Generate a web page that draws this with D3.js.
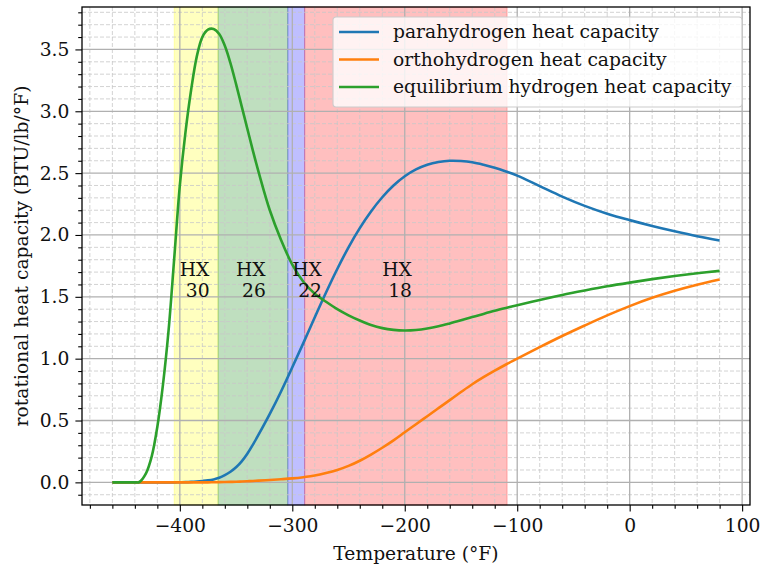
<!DOCTYPE html>
<html>
<head>
<meta charset="utf-8">
<script src="https://cdn.jsdelivr.net/npm/d3@7"></script>
<style>
  body { margin: 0; background: #fff; }
  text { font-family: "DejaVu Serif", serif; fill: #111; }
</style>
</head>
<body>
<div id="chart"></div>
<script>
// temperatures (°F) where the curves were read
var temps = [-460, -450, -440, -436, -430, -425, -420, -415, -410, -405, -400, -395, -390, -385, -380, -375, -370, -365, -360, -355, -350,
  -345, -340, -335, -330, -320, -310, -300, -290, -280, -270, -260, -250, -240, -230, -220, -210, -200, -190, -180, -170, -160, -150,
  -140, -130, -120, -110, -100, -80, -60, -40, -20, 0, 20, 40, 60, 80];

var paraCp = [0, 0, 0, 0, 0, 0, 0, 0, 0, 0, 0.001, 0.002, 0.004, 0.007, 0.011, 0.016, 0.024, 0.037, 0.058, 0.086, 0.122,
  0.17, 0.232, 0.305, 0.385, 0.553, 0.735, 0.93, 1.13, 1.335, 1.535, 1.725, 1.9, 2.055, 2.19, 2.305, 2.4, 2.475, 2.53, 2.568, 2.59, 2.6, 2.598,
  2.588, 2.568, 2.543, 2.513, 2.48, 2.395, 2.31, 2.235, 2.172, 2.12, 2.073, 2.03, 1.99, 1.955];

var orthoCp = [0, 0, 0, 0, 0, 0, 0, 0, 0, 0, 0, 0, 0, 0, 0, 0, 0.001, 0.002, 0.003, 0.004, 0.005,
  0.007, 0.009, 0.011, 0.014, 0.019, 0.025, 0.032, 0.042, 0.055, 0.075, 0.1, 0.133, 0.175, 0.225, 0.28, 0.34, 0.405, 0.47, 0.535, 0.6, 0.665, 0.73,
  0.793, 0.85, 0.903, 0.953, 1.0, 1.093, 1.183, 1.268, 1.35, 1.425, 1.492, 1.549, 1.598, 1.64];

var equilCp = [0, 0, 0, 0.003, 0.075, 0.21, 0.45, 0.79, 1.23, 1.81, 2.4, 2.83, 3.17, 3.44, 3.6, 3.66, 3.665, 3.625, 3.53, 3.39, 3.22,
  3.04, 2.86, 2.68, 2.51, 2.2, 1.96, 1.76, 1.62, 1.525, 1.46, 1.4, 1.35, 1.308, 1.272, 1.247, 1.233, 1.228, 1.232, 1.244, 1.262, 1.285, 1.31,
  1.336, 1.362, 1.387, 1.41, 1.432, 1.475, 1.515, 1.551, 1.585, 1.615, 1.643, 1.668, 1.69, 1.71];

var seriesNames = ["parahydrogen heat capacity", "orthohydrogen heat capacity", "equilibrium hydrogen heat capacity"];
var seriesColors = ["#1f77b4", "#ff7f0e", "#2ca02c"];

// heat exchanger temperature bands
var hxNames = ["30", "26", "22", "18"];
var hxStart = [-405, -366, -304, -289];
var hxEnd = [-366, -304, -289, -109];
var hxColors = ["yellow", "green", "blue", "red"];
var hxLabelX = [-400, -350, -300, -220];

var xTicks = [-400, -300, -200, -100, 0, 100];
var yTicks = [0, 0.5, 1, 1.5, 2, 2.5, 3, 3.5];

var fs = "18.7px";
var margin = {top: 7, right: 12, bottom: 62, left: 82},
    width = 762 - margin.left - margin.right,
    height = 567 - margin.top - margin.bottom;

var svg = d3.select("#chart")
  .append("svg")
    .attr("width", 762)
    .attr("height", 567)
  .append("g")
    .attr("transform", "translate(" + margin.left + "," + margin.top + ")");

var x = d3.scaleLinear().domain([-487, 107]).range([0, width]);
var y = d3.scaleLinear().domain([-0.183, 3.843]).range([height, 0]);

// bands
svg.selectAll("rect.hx")
  .data(hxStart)
  .enter()
  .append("rect")
    .attr("class", "hx")
    .attr("x", function(d) { return x(d); })
    .attr("y", 0)
    .attr("width", function(d, i) { return x(hxEnd[i]) - x(d); })
    .attr("height", height)
    .attr("fill", function(d, i) { return hxColors[i]; })
    .attr("fill-opacity", 0.25)
    .attr("stroke", function(d, i) { return hxColors[i]; })
    .attr("stroke-opacity", 0.25);

// grid
var xMinor = d3.range(-480, 101, 20).filter(function(v) { return v % 100 !== 0; });
var yMinor = d3.range(-1, 39).map(function(v) { return v / 10; }).filter(function(v) { return Math.round(v * 10) % 5 !== 0; });

svg.append("g")
  .selectAll("line")
  .data(xMinor)
  .enter().append("line")
    .attr("x1", function(d) { return x(d); }).attr("x2", function(d) { return x(d); })
    .attr("y1", 0).attr("y2", height)
    .attr("stroke", "#c8c8c8").attr("stroke-width", 0.8).attr("stroke-dasharray", "4,2");
svg.append("g")
  .selectAll("line")
  .data(yMinor)
  .enter().append("line")
    .attr("y1", function(d) { return y(d); }).attr("y2", function(d) { return y(d); })
    .attr("x1", 0).attr("x2", width)
    .attr("stroke", "#c8c8c8").attr("stroke-width", 0.8).attr("stroke-dasharray", "4,2");
svg.append("g")
  .selectAll("line")
  .data(xTicks)
  .enter().append("line")
    .attr("x1", function(d) { return x(d); }).attr("x2", function(d) { return x(d); })
    .attr("y1", 0).attr("y2", height)
    .attr("stroke", "#b0b0b0").attr("stroke-width", 1.3);
svg.append("g")
  .selectAll("line")
  .data(yTicks)
  .enter().append("line")
    .attr("y1", function(d) { return y(d); }).attr("y2", function(d) { return y(d); })
    .attr("x1", 0).attr("x2", width)
    .attr("stroke", "#b0b0b0").attr("stroke-width", 1.3);

// curves
var line = d3.line()
  .x(function(d) { return x(d[0]); })
  .y(function(d) { return y(d[1]); })
  .curve(d3.curveCatmullRom.alpha(0.5));

[paraCp, orthoCp, equilCp].forEach(function(vals, i) {
  svg.append("path")
    .datum(temps.map(function(t, j) { return [t, vals[j]]; }))
    .attr("fill", "none")
    .attr("stroke", seriesColors[i])
    .attr("stroke-width", 2.6)
    .attr("stroke-linejoin", "round")
    .attr("d", line);
});

// HX labels
hxNames.forEach(function(n, i) {
  var t = svg.append("text")
    .attr("x", x(hxLabelX[i]))
    .attr("y", y(1.5))
    .attr("font-size", fs)
    .style("white-space", "pre");
  t.append("tspan").attr("x", x(hxLabelX[i])).attr("dy", -20.5).text("HX");
  t.append("tspan").attr("x", x(hxLabelX[i])).attr("dy", 20.5).text(" " + n);
});

// axes
svg.append("g")
  .attr("transform", "translate(0," + height + ")")
  .call(d3.axisBottom(x).tickValues(xTicks).tickSize(6.6).tickPadding(7).tickFormat(function(d) { return d < 0 ? "\u2212" + (-d) : d; }));
svg.append("g")
  .attr("transform", "translate(0," + height + ")")
  .call(d3.axisBottom(x).tickValues(xMinor).tickSize(3.8).tickFormat(""));
svg.append("g")
  .call(d3.axisLeft(y).tickValues(yTicks).tickSize(6.6).tickPadding(6).tickFormat(d3.format(".1f")));
svg.append("g")
  .call(d3.axisLeft(y).tickValues(yMinor).tickSize(3.8).tickFormat(""));

svg.selectAll(".domain").remove();
svg.selectAll(".tick line").attr("stroke", "#000").attr("stroke-width", 1.1);
svg.selectAll(".tick text").attr("font-size", fs).attr("fill", "#111").style("font-family", "DejaVu Serif");

// spines
svg.append("rect")
  .attr("width", width).attr("height", height)
  .attr("fill", "none").attr("stroke", "#000").attr("stroke-width", 1.3);

svg.append("text")
  .attr("x", width / 2).attr("y", height + 55)
  .attr("text-anchor", "middle").attr("font-size", fs)
  .text("Temperature (\u00b0F)");

svg.append("text")
  .attr("transform", "translate(" + (-54) + "," + (height / 2) + ") rotate(-90)")
  .attr("text-anchor", "middle").attr("font-size", fs)
  .text("rotational heat capacity (BTU/lb/\u00b0F)");

// legend
var lg = svg.append("g").attr("transform", "translate(" + (333 - margin.left) + "," + (17 - margin.top) + ")");
lg.append("rect")
  .attr("width", 409).attr("height", 90).attr("rx", 3)
  .attr("fill", "#fff").attr("fill-opacity", 0.8)
  .attr("stroke", "#cccccc").attr("stroke-width", 1.1);
seriesNames.forEach(function(n, i) {
  var yy = 15 + i * 27.5;
  lg.append("line")
    .attr("x1", 6).attr("x2", 46).attr("y1", yy).attr("y2", yy)
    .attr("stroke", seriesColors[i]).attr("stroke-width", 2.6);
  lg.append("text")
    .attr("x", 60).attr("y", yy + 6)
    .attr("font-size", fs)
    .text(n);
});
</script>
</body>
</html>
